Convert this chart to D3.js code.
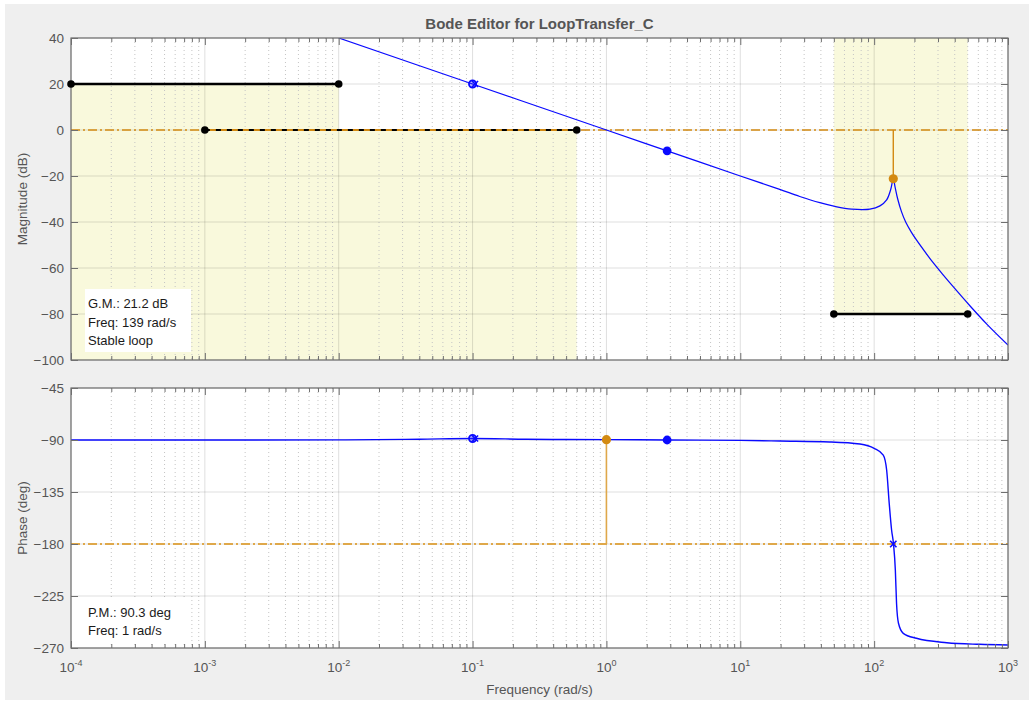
<!DOCTYPE html>
<html>
<head>
<meta charset="utf-8">
<script src="https://cdn.jsdelivr.net/npm/d3@7"></script>
<style>
  html,body{margin:0;padding:0;background:#fff;}
  svg{display:block;font-family:"Liberation Sans",Arial,Helvetica,sans-serif;}
</style>
</head>
<body>
<svg id="chart" width="1029" height="702"></svg>
<script>
// ---------------- data ----------------
const titleText = "Bode Editor for LoopTransfer_C";
const freqDecades = [-4, -3, -2, -1, 0, 1, 2, 3];
const magTicks = [-100, -80, -60, -40, -20, 0, 20, 40];
const phaseTicks = [-270, -225, -180, -135, -90, -45];

// open-loop magnitude (rad/s, dB)
const magFreq = [0.01, 0.1, 1, 2.84, 10, 19.7, 27.8, 39.3, 50.9, 67.9, 93, 110.5, 124, 132.8, 139, 143, 150, 160, 172, 190, 207, 240, 275, 330, 388, 519, 700, 1000];
const magDb   = [40, 20, 0, -9.07, -20, -25.8, -28.9, -31.6, -33.2, -34.4, -34.4, -33.0, -30.4, -26.0, -21.2, -24.5, -30.0, -35.5, -40.0, -44.5, -47.8, -53.0, -57.6, -63.2, -68.0, -76.4, -84.6, -93.5];

// open-loop phase (rad/s, deg)
const phaseFreq = [1e-4, 1e-3, 0.01, 0.04, 0.1, 0.25, 0.5, 1, 2.84, 10, 19.7, 46.5, 78.4, 100, 117, 124, 129.6, 135, 139.5, 144, 147, 152, 165, 207, 349, 612, 1000];
const phaseDeg  = [-90, -90, -89.9, -89.3, -88.7, -89.3, -89.6, -89.7, -90, -90.3, -90.9, -91.7, -93.5, -97.2, -103, -116, -144.8, -167.9, -180, -202.5, -231.3, -248.6, -257.3, -261.6, -265.4, -266.8, -267.4];

// design requirements (gain bounds)
const reqFreqStart = [1e-4, 1e-3, 50];
const reqFreqEnd   = [1e-2, 0.6, 500];
const reqDb        = [20, 0, -80];
const reqSide      = ["below", "below", "above"];

// margins
const gainMarginDb = 21.2, gainMarginFreq = 139;
const phaseMarginDeg = 90.3, phaseMarginFreq = 1;
const gmText = ["G.M.: 21.2 dB", "Freq: 139 rad/s", "Stable loop"];
const pmText = ["P.M.: 90.3 deg", "Freq: 1 rad/s"];

// compensator poles/zeros markers
const cpFreq = [0.1, 2.84];
const cpType = ["pz", "zero"];
const phaseCrossFreq = 139;

// ---------------- layout ----------------
const svg = d3.select("#chart");
const W = 1029, H = 702;
const X0 = 71, X1 = 1008;
const magY0 = 38, magY1 = 360;
const phY0 = 388, phY1 = 648;

const blue = "#0a0aff", orange = "#d38a12", orangeLine = "#dfa84a", yellow = "#f9f9dc";
const axisCol = "#6f6f6f", labelCol = "#555";

svg.append("rect").attr("width", W).attr("height", H).attr("fill", "#fff");
svg.append("rect").attr("x", 5).attr("y", 4).attr("width", W - 5).attr("height", H - 6).attr("fill", "#efefef");

const x = d3.scaleLog().domain([1e-4, 1e3]).range([X0, X1]);
const yMag = d3.scaleLinear().domain([-100, 40]).range([magY1, magY0]);
const yPh = d3.scaleLinear().domain([-270, -45]).range([phY1, phY0]);

const minorFreqs = [];
freqDecades.slice(0, -1).forEach(d => { for (let k = 2; k <= 9; k++) minorFreqs.push(k * Math.pow(10, d)); });
const majorFreqs = freqDecades.map(d => Math.pow(10, d));

svg.append("defs").selectAll("clipPath").data([["cmag", magY0, magY1], ["cph", phY0, phY1]]).join("clipPath")
  .attr("id", d => d[0]).append("rect")
  .attr("x", X0).attr("y", d => d[1]).attr("width", X1 - X0).attr("height", d => d[2] - d[1]);

function panel(y, yTicks, ya, yb, clipId) {
  const g = svg.append("g");
  g.append("rect").attr("x", X0).attr("y", ya).attr("width", X1 - X0).attr("height", yb - ya).attr("fill", "#fff");
  const shade = g.append("g").attr("clip-path", `url(#${clipId})`);
  const grid = g.append("g");
  grid.selectAll(".minx").data(minorFreqs).join("line")
    .attr("x1", d => x(d)).attr("x2", d => x(d)).attr("y1", ya).attr("y2", yb)
    .attr("stroke", "#c4c4c4").attr("stroke-width", 1).attr("stroke-dasharray", "1,3");
  grid.selectAll(".majx").data(majorFreqs).join("line")
    .attr("x1", d => x(d)).attr("x2", d => x(d)).attr("y1", ya).attr("y2", yb)
    .attr("stroke", "rgba(0,0,0,0.13)").attr("stroke-width", 1);
  grid.selectAll(".majy").data(yTicks).join("line")
    .attr("x1", X0).attr("x2", X1).attr("y1", d => y(d)).attr("y2", d => y(d))
    .attr("stroke", "rgba(0,0,0,0.13)").attr("stroke-width", 1);
  const plot = g.append("g").attr("clip-path", `url(#${clipId})`);
  const axes = g.append("g");
  axes.append("rect").attr("x", X0).attr("y", ya).attr("width", X1 - X0).attr("height", yb - ya)
    .attr("fill", "none").attr("stroke", axisCol).attr("stroke-width", 1.2);
  const fmtNone = () => "";
  const xb = d3.axisBottom(x).tickValues(majorFreqs).tickSize(-7).tickFormat(fmtNone);
  const xbm = d3.axisBottom(x).tickValues(minorFreqs).tickSize(-4).tickFormat(fmtNone);
  const xt = d3.axisTop(x).tickValues(majorFreqs).tickSize(-7).tickFormat(fmtNone);
  const xtm = d3.axisTop(x).tickValues(minorFreqs).tickSize(-4).tickFormat(fmtNone);
  [[xb, yb], [xbm, yb], [xt, ya], [xtm, ya]].forEach(([ax, ty]) => {
    const a = axes.append("g").attr("transform", `translate(0,${ty})`).call(ax);
    a.select(".domain").remove();
    a.selectAll("line").attr("stroke", axisCol);
  });
  const yl = axes.append("g").attr("transform", `translate(${X0},0)`)
    .call(d3.axisLeft(y).tickValues(yTicks).tickSize(-7).tickPadding(7).tickFormat(d3.format("d")));
  yl.select(".domain").remove();
  yl.selectAll("line").attr("stroke", axisCol);
  yl.selectAll("text").attr("fill", labelCol).attr("font-size", 13.5)
    .attr("font-family", "'Liberation Sans',Arial,sans-serif");
  const yr = axes.append("g").attr("transform", `translate(${X1},0)`)
    .call(d3.axisRight(y).tickValues(yTicks).tickSize(-7).tickFormat(fmtNone));
  yr.select(".domain").remove();
  yr.selectAll("line").attr("stroke", axisCol);
  return { g, shade, plot, axes };
}

const magP = panel(yMag, magTicks, magY0, magY1, "cmag");
const phP = panel(yPh, phaseTicks, phY0, phY1, "cph");

// ---------- shaded requirement regions ----------
reqDb.forEach((db, i) => {
  const xa = x(reqFreqStart[i]), xb = x(reqFreqEnd[i]);
  const ya = reqSide[i] === "below" ? yMag(db) : yMag(40);
  const yb = reqSide[i] === "below" ? yMag(-100) : yMag(db);
  magP.shade.append("rect").attr("x", xa).attr("y", ya).attr("width", xb - xa).attr("height", yb - ya).attr("fill", yellow);
});

// ---------- magnitude plot ----------
const smoothLine = (yScale) => d3.line().x(d => x(d[0])).y(d => yScale(d[1])).curve(d3.curveCatmullRom.alpha(0.5));
const monoLine = (yScale) => d3.line().x(d => x(d[0])).y(d => yScale(d[1])).curve(d3.curveMonotoneX);

magP.plot.append("line").attr("x1", X0).attr("x2", X1).attr("y1", yMag(0)).attr("y2", yMag(0))
  .attr("stroke", orange).attr("stroke-width", 1.4).attr("stroke-dasharray", "9,3,2,3");

reqDb.forEach((db, i) => {
  if (db === 0) {
    magP.g.append("line").attr("x1", x(reqFreqStart[i])).attr("x2", x(reqFreqEnd[i]))
      .attr("y1", yMag(db)).attr("y2", yMag(db)).attr("stroke", orange).attr("stroke-width", 2);
  }
  const ln = magP.g.append("line").attr("x1", x(reqFreqStart[i])).attr("x2", x(reqFreqEnd[i]))
    .attr("y1", yMag(db)).attr("y2", yMag(db)).attr("stroke", "#000").attr("stroke-width", 2.6);
  if (db === 0) ln.attr("stroke-dasharray", "5,6").attr("stroke-width", 2.2);
  [reqFreqStart[i], reqFreqEnd[i]].forEach(f => {
    magP.g.append("circle").attr("cx", x(f)).attr("cy", yMag(db)).attr("r", 3.8).attr("fill", "#000");
  });
});

magP.g.append("line").attr("x1", x(gainMarginFreq)).attr("x2", x(gainMarginFreq))
  .attr("y1", yMag(0)).attr("y2", yMag(-gainMarginDb)).attr("stroke", orange).attr("stroke-width", 1.4);

magP.plot.append("path").datum(magFreq.map((f, i) => [f, magDb[i]]))
  .attr("d", smoothLine(yMag)).attr("fill", "none").attr("stroke", blue).attr("stroke-width", 1.25);

magP.g.append("circle").attr("cx", x(gainMarginFreq)).attr("cy", yMag(-gainMarginDb)).attr("r", 4.6).attr("fill", orange);

// ---------- phase plot ----------
phP.plot.append("line").attr("x1", X0).attr("x2", X1).attr("y1", yPh(-180)).attr("y2", yPh(-180))
  .attr("stroke", orangeLine).attr("stroke-width", 2.2).attr("stroke-dasharray", "9,3,2,3");
const pmPhase = -180 + phaseMarginDeg;
phP.g.append("line").attr("x1", x(phaseMarginFreq)).attr("x2", x(phaseMarginFreq))
  .attr("y1", yPh(-180)).attr("y2", yPh(pmPhase)).attr("stroke", orangeLine).attr("stroke-width", 1.6);
phP.plot.append("path").datum(phaseFreq.map((f, i) => [f, phaseDeg[i]]))
  .attr("d", monoLine(yPh)).attr("fill", "none").attr("stroke", blue).attr("stroke-width", 1.4);
phP.g.append("circle").attr("cx", x(phaseMarginFreq)).attr("cy", yPh(pmPhase)).attr("r", 4.6).attr("fill", orange);

// ---------- compensator markers ----------
const valAt = (fs, vs, f) => { const i = fs.indexOf(f); return vs[i]; };
function xMark(g, cx, cy, s) {
  g.append("path").attr("d", `M${cx - s},${cy - s}L${cx + s},${cy + s}M${cx - s},${cy + s}L${cx + s},${cy - s}`)
    .attr("stroke", blue).attr("stroke-width", 1.6).attr("fill", "none");
}
cpFreq.forEach((f, i) => {
  [[magP.g, yMag(valAt(magFreq, magDb, f))], [phP.g, yPh(valAt(phaseFreq, phaseDeg, f))]].forEach(([g, cy]) => {
    const cx = x(f);
    if (cpType[i] === "pz") {
      g.append("circle").attr("cx", cx).attr("cy", cy).attr("r", 3.6).attr("fill", "rgba(40,40,255,0.35)")
        .attr("stroke", blue).attr("stroke-width", 1.8);
      xMark(g, cx + 2.5, cy, 3);
    } else {
      g.append("circle").attr("cx", cx).attr("cy", cy).attr("r", 4.4).attr("fill", blue);
    }
  });
});
xMark(phP.g, x(phaseCrossFreq), yPh(-180), 3.2);

// ---------- margin text boxes ----------
function infoBox(g, lines, bx, by, bw, bh, base0, step) {
  g.append("rect").attr("x", bx).attr("y", by).attr("width", bw).attr("height", bh).attr("fill", "#fff");
  g.selectAll(null).data(lines).join("text")
    .attr("x", bx + 3).attr("y", (d, i) => base0 + i * step)
    .attr("font-size", 13).attr("fill", "#1a1a1a").text(d => d);
}
infoBox(magP.g, gmText, 85, 289, 106, 63, 308, 18.5);
infoBox(phP.g, pmText, 85, 598, 106, 46, 616.5, 18);

// ---------- x tick labels (bottom only) ----------
const xl = svg.append("g").attr("fill", labelCol);
freqDecades.forEach(d => {
  const t = xl.append("text").attr("x", x(Math.pow(10, d))).attr("y", 672)
    .attr("text-anchor", "middle").attr("font-size", 13.5);
  t.append("tspan").text("10");
  t.append("tspan").attr("dy", -6).attr("font-size", 9).text(String(d));
});

// ---------- titles ----------
svg.append("text").attr("x", (X0 + X1) / 2).attr("y", 29).attr("text-anchor", "middle")
  .attr("font-size", 15).attr("font-weight", "bold").attr("fill", "#555").text(titleText);
svg.append("text").attr("transform", `translate(27,${(magY0 + magY1) / 2}) rotate(-90)`)
  .attr("text-anchor", "middle").attr("font-size", 13.5).attr("fill", labelCol).text("Magnitude (dB)");
svg.append("text").attr("transform", `translate(27,${(phY0 + phY1) / 2}) rotate(-90)`)
  .attr("text-anchor", "middle").attr("font-size", 13.5).attr("fill", labelCol).text("Phase (deg)");
svg.append("text").attr("x", (X0 + X1) / 2).attr("y", 694).attr("text-anchor", "middle")
  .attr("font-size", 13.5).attr("fill", labelCol).text("Frequency (rad/s)");
</script>
</body>
</html>
